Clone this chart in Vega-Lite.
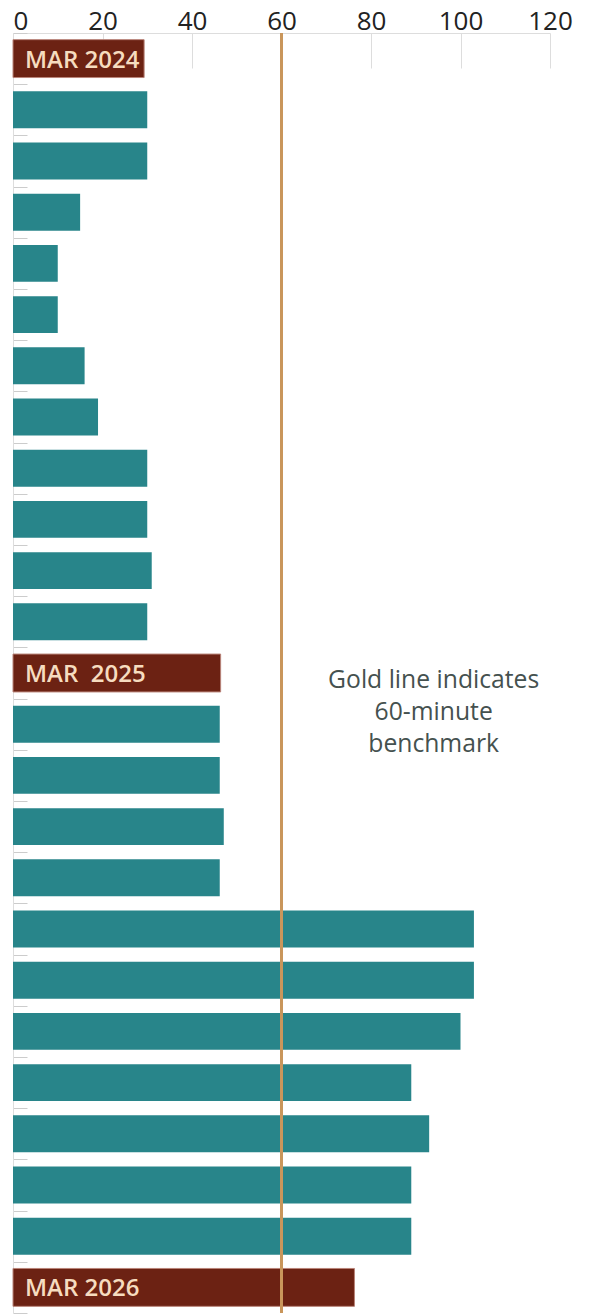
{
  "$schema": "https://vega.github.io/schema/vega-lite/v6.json",
  "autosize": {"type": "none"},
  "padding": {"left": 13, "top": 33, "right": 50, "bottom": 2},
  "width": 537,
  "height": 1280,
  "config": {
    "view": {"stroke": null},
    "font": "Open Sans"
  },
  "datasets": {
    "rows": [
      {"row": 1, "kind": "label", "label": "MAR 2024", "value": 29.3},
      {"row": 2, "kind": "bar", "label": "", "value": 30},
      {"row": 3, "kind": "bar", "label": "", "value": 30},
      {"row": 4, "kind": "bar", "label": "", "value": 15},
      {"row": 5, "kind": "bar", "label": "", "value": 10},
      {"row": 6, "kind": "bar", "label": "", "value": 10},
      {"row": 7, "kind": "bar", "label": "", "value": 16},
      {"row": 8, "kind": "bar", "label": "", "value": 19},
      {"row": 9, "kind": "bar", "label": "", "value": 30},
      {"row": 10, "kind": "bar", "label": "", "value": 30},
      {"row": 11, "kind": "bar", "label": "", "value": 31},
      {"row": 12, "kind": "bar", "label": "", "value": 30},
      {"row": 13, "kind": "label", "label": "MAR \u00a02025", "value": 46.4},
      {"row": 14, "kind": "bar", "label": "", "value": 46.2},
      {"row": 15, "kind": "bar", "label": "", "value": 46.2},
      {"row": 16, "kind": "bar", "label": "", "value": 47.1},
      {"row": 17, "kind": "bar", "label": "", "value": 46.2},
      {"row": 18, "kind": "bar", "label": "", "value": 103},
      {"row": 19, "kind": "bar", "label": "", "value": 103},
      {"row": 20, "kind": "bar", "label": "", "value": 100},
      {"row": 21, "kind": "bar", "label": "", "value": 89},
      {"row": 22, "kind": "bar", "label": "", "value": 93},
      {"row": 23, "kind": "bar", "label": "", "value": 89},
      {"row": 24, "kind": "bar", "label": "", "value": 89},
      {"row": 25, "kind": "label", "label": "MAR 2026", "value": 76.3}
    ],
    "one": [{"benchmark": 60}]
  },
  "layer": [
    {
      "data": {"name": "rows"},
      "transform": [{"filter": "datum.kind == 'bar'"}],
      "mark": {"type": "bar", "height": {"band": 0.72}, "color": "#28858a"},
      "encoding": {
        "y": {
          "field": "row",
          "type": "ordinal",
          "scale": {"paddingInner": 0, "paddingOuter": 0},
          "axis": {
            "orient": "left",
            "title": null,
            "labels": false,
            "domainColor": "#dddddd",
            "tickColor": "#cccccc",
            "tickSize": -14,
            "tickBand": "extent"
          }
        },
        "x": {
          "field": "value",
          "type": "quantitative",
          "scale": {"domain": [0, 120], "nice": false},
          "axis": {
            "orient": "top",
            "title": null,
            "grid": false,
            "values": [0, 20, 40, 60, 80, 100, 120],
            "domainColor": "#dddddd",
            "tickColor": "#dddddd",
            "tickSize": -35,
            "labelFontSize": 26,
            "labelColor": "#222222",
            "labelPadding": 34,
            "labelAlign": {"condition": {"test": "datum.value == 0", "value": "left"}, "value": "center"}
          }
        }
      }
    },
    {
      "data": {"name": "rows"},
      "transform": [{"filter": "datum.kind == 'label'"}],
      "mark": {"type": "bar", "height": {"band": 0.74}, "color": "#6c2213", "stroke": "#b98378", "strokeWidth": 1},
      "encoding": {
        "y": {"field": "row", "type": "ordinal"},
        "x": {"field": "value", "type": "quantitative"}
      }
    },
    {
      "data": {"name": "rows"},
      "transform": [{"filter": "datum.kind == 'label'"}],
      "mark": {"type": "text", "align": "left", "baseline": "middle", "dx": 12, "dy": 2, "fontSize": 24, "fontWeight": 600, "color": "#f6dcbf"},
      "encoding": {
        "y": {"field": "row", "type": "ordinal"},
        "x": {"datum": 0, "type": "quantitative"},
        "text": {"field": "label"}
      }
    },
    {
      "data": {"name": "one"},
      "mark": {"type": "rule", "color": "#c9965b", "strokeWidth": 3},
      "encoding": {"x": {"field": "benchmark", "type": "quantitative"}}
    },
    {
      "data": {"name": "rows"},
      "transform": [{"filter": "datum.row == 14"}],
      "mark": {
        "type": "text",
        "text": ["Gold line indicates", "60-minute", "benchmark"],
        "align": "center",
        "baseline": "middle",
        "fontSize": 24.7,
        "fontWeight": 400,
        "lineHeight": 32,
        "color": "#45514f",
        "dy": -43
      },
      "encoding": {
        "x": {"datum": 94, "type": "quantitative"},
        "y": {"field": "row", "type": "ordinal"}
      }
    }
  ]
}
